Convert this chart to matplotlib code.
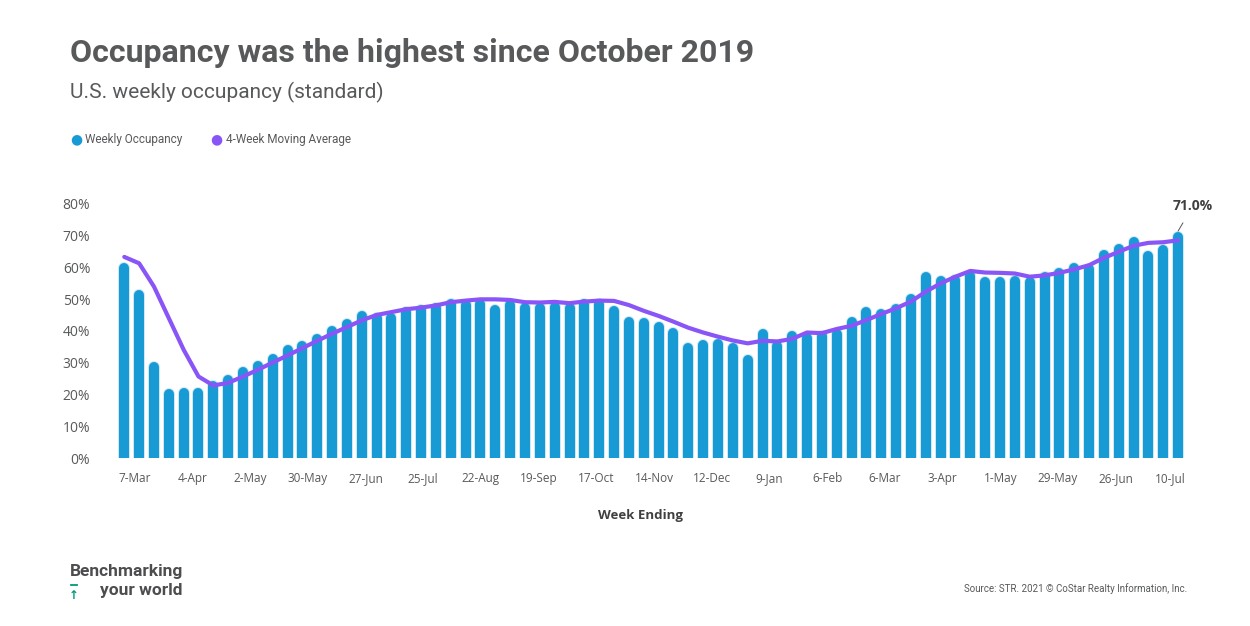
import matplotlib.pyplot as plt
import matplotlib.patheffects as pe
from matplotlib.lines import Line2D
import numpy as np

# Weekly occupancy (%), 7-Mar-2020 onwards
weekly_occupancy = [
    61.2, 52.8, 30.2, 21.9, 22.2, 22.2, 24.4, 26.2, 28.6, 30.6,
    32.8, 35.6, 36.9, 39.1, 41.6, 43.8, 46.2, 45.6, 45.7, 47.6,
    48.1, 48.8, 50.1, 49.7, 49.9, 48.2, 49.7, 48.9, 48.9, 49.2,
    48.9, 50.1, 49.9, 47.7, 44.3, 44.0, 42.9, 40.8, 36.1, 37.0,
    37.6, 36.3, 32.3, 40.5, 36.7, 39.9, 39.3, 40.1, 40.5, 44.5,
    47.6, 47.0, 48.4, 51.6, 58.5, 57.2, 57.5, 58.9, 56.8, 57.0,
    57.2, 57.0, 58.5, 59.8, 61.4, 61.0, 65.3, 67.4, 69.5, 65.1,
    66.8, 71.0,
]

# 4-week moving average (%)
moving_average = [
    63.2, 61.2, 53.9, 44.0, 34.1, 25.7, 22.9, 23.7, 25.7, 27.8,
    30.1, 32.3, 34.6, 36.9, 39.1, 41.2, 43.3, 45.0, 45.9, 46.8,
    47.3, 48.0, 49.0, 49.5, 49.9, 49.9, 49.7, 49.0, 48.9, 49.1,
    48.7, 49.2, 49.5, 49.4, 48.1, 46.3, 44.7, 42.9, 41.0, 39.5,
    38.2, 37.0, 36.1, 36.9, 36.7, 37.5, 39.5, 39.3, 40.6, 41.6,
    43.4, 45.3, 47.1, 49.2, 52.3, 54.9, 57.0, 58.8, 58.3, 58.2,
    58.0, 57.0, 57.4, 58.2, 59.3, 60.6, 62.9, 64.8, 66.7, 67.6,
    67.8, 68.4,
]

week_labels = ["7-Mar", "4-Apr", "2-May", "30-May", "27-Jun", "25-Jul", "22-Aug",
               "19-Sep", "17-Oct", "14-Nov", "12-Dec", "9-Jan", "6-Feb", "6-Mar",
               "3-Apr", "1-May", "29-May", "26-Jun", "10-Jul"]

yticks = [0, 10, 20, 30, 40, 50, 60, 70, 80]

BAR_BLUE = "#189bd5"
LINE_PURPLE = "#8a55f7"
GREY = "#58595b"
narrow = ["Roboto", "DejaVu Sans"]
body = ["Open Sans", "DejaVu Sans"]

fig = plt.figure(figsize=(12.5, 6.26), dpi=100)
ax = fig.add_axes([0.0923, 0.2676, 0.8573, 0.4076])

x = np.arange(len(weekly_occupancy))
vals = np.array(weekly_occupancy)

ax.set_xlim(-0.6, len(x) - 0.4)
ax.set_ylim(0, 80)

# bars drawn as thick round-capped lines; shorten by cap radius
bar_px = 10.0
ax_h_px = 0.4076 * 626
cap = (bar_px / 2) / (ax_h_px / 80)
bars = ax.vlines(x, -5, vals - cap, colors=BAR_BLUE, linewidth=bar_px * 0.72, zorder=2)
bars.set_capstyle("round")
bars.set_path_effects([pe.Stroke(linewidth=bar_px * 0.72 + 1.4, foreground="#cde8f6"), pe.Normal()])

ax.plot(x, moving_average, color=LINE_PURPLE, linewidth=3.0, solid_capstyle="round",
        solid_joinstyle="round", zorder=3)

# last value callout
ax.annotate(f"{weekly_occupancy[-1]:.1f}%", xy=(x[-1], vals[-1] + 0.3),
            xytext=(x[-1] + 1.0, vals[-1] + 8.2), ha="center", va="center",
            fontsize=10, fontweight="bold", color="#404040", family=body,
            arrowprops=dict(arrowstyle="-", color="#555555", lw=0.7, shrinkA=6, shrinkB=0))

for s in ax.spines.values():
    s.set_visible(False)

ax.set_yticks(yticks)
ax.set_yticklabels([f"{t}%" for t in yticks], family=body, fontsize=10, color=GREY)
tick_pos = list(np.linspace(0.7, 66.8, len(week_labels) - 1)) + [70.5]
ax.set_xticks(tick_pos)
ax.set_xticklabels(week_labels, family=body, fontsize=8.5, color=GREY)
ax.tick_params(length=0)
ax.tick_params(axis="x", pad=10)
ax.tick_params(axis="y", pad=18)

fig.text(0.512, 0.177, "Week Ending", ha="center", va="center", family=body,
         fontsize=9.5, fontweight="bold", color="#404040")

# titles
fig.text(0.056, 0.915, "Occupancy was the highest since October 2019", family=narrow,
         fontsize=23, fontweight="bold", color=GREY, va="center")
fig.text(0.056, 0.852, "U.S. weekly occupancy (standard)", family=narrow,
         fontsize=15, color=GREY, va="center")

# legend
fig.text(0.0565, 0.778, "\u25cf", color=BAR_BLUE, fontsize=10, va="center", family="DejaVu Sans")
fig.text(0.068, 0.777, "Weekly Occupancy", color=GREY, fontsize=8.5, va="center", family=narrow)
fig.text(0.1685, 0.778, "\u25cf", color=LINE_PURPLE, fontsize=10, va="center", family="DejaVu Sans")
fig.text(0.1808, 0.777, "4-Week Moving Average", color=GREY, fontsize=8.5, va="center", family=narrow)

# footer
fig.text(0.056, 0.087, "Benchmarking", family=narrow, fontsize=12.5, fontweight="bold",
         color="#4d4d4f", va="center")
fig.text(0.080, 0.057, "your world", family=narrow, fontsize=12.5, fontweight="bold",
         color="#4d4d4f", va="center")
fig.text(0.0590, 0.049, "\u2191", family="DejaVu Sans", fontsize=8.5, fontweight="bold",
         color="#00997a", va="center", ha="center")
fig.add_artist(Line2D([0.0565, 0.0615], [0.0655, 0.0655], color="#00997a", lw=1.3))
fig.text(0.950, 0.060, "Source: STR. 2021 \u00a9 CoStar Realty Information, Inc.", family=narrow,
         fontsize=7, color=GREY, ha="right", va="center")

fig.savefig("out.png", dpi=100)
